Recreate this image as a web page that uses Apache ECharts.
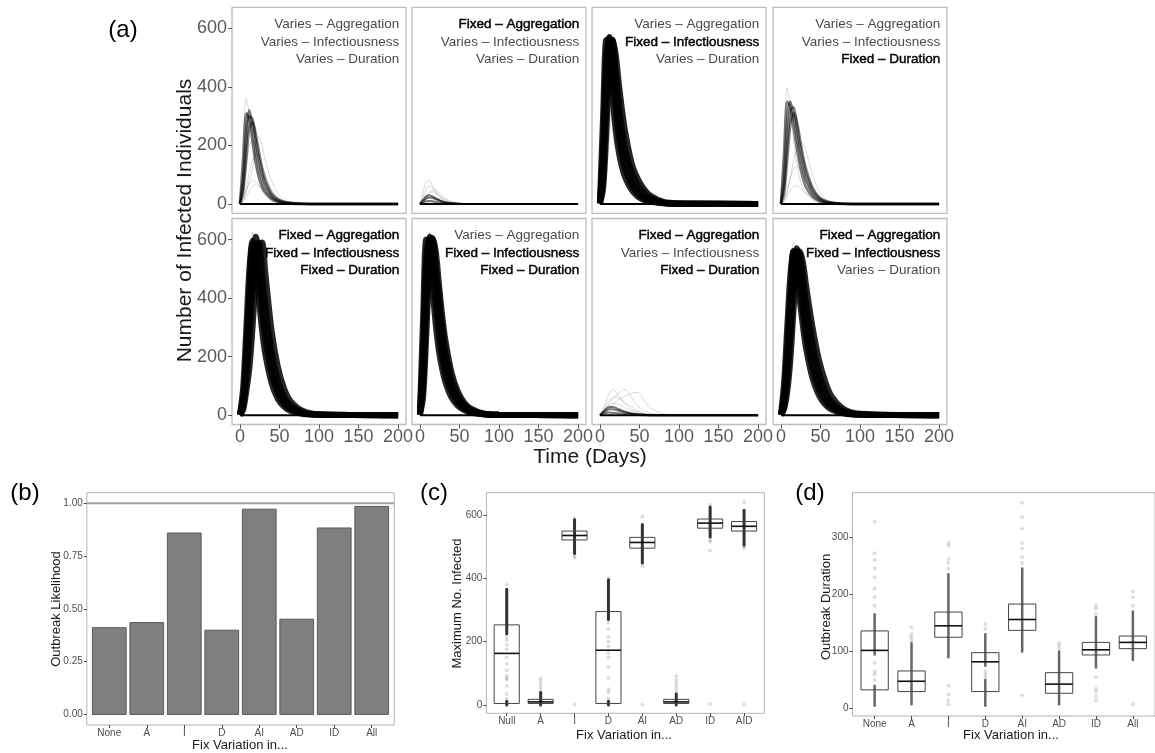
<!DOCTYPE html>
<html><head><meta charset="utf-8">
<script src="https://cdn.jsdelivr.net/npm/echarts@6/dist/echarts.min.js"></script>
<style>html,body{margin:0;padding:0;background:#fff}#c{width:1155px;height:753px}</style>
</head><body><div id="c"></div>
<script>
// ---------- DATA ----------
const days = [0,4,8,12,16,20,24,28,32,40,48,56,64,80,100,200];
const dayTicks = [0,50,100,150,200];
const infTicks = [0,200,400,600];

const p1Main = [
 [2,150,310,290,210,140,90,58,38,16,7,3,1,0,0,0],
 [1,90,260,320,260,180,120,80,52,22,9,4,2,0,0,0],
 [1,60,200,300,290,220,155,105,70,30,13,6,3,1,0,0],
 [0,40,150,260,280,240,180,125,85,38,17,8,4,1,0,0]];
const p1Faint = [
 [3,220,360,300,200,130,80,50,30,12,5,2,1,0,0,0],
 [0,20,60,110,150,170,160,130,100,50,22,10,4,1,0,0],
 [0,10,40,80,120,200,230,200,150,80,35,15,6,1,0,0],
 [0,15,50,70,80,75,65,50,38,20,9,4,2,0,0,0],
 [0,30,120,200,220,190,140,100,68,30,13,6,2,0,0,0],
 [0,8,25,45,60,65,60,50,40,22,10,4,2,0,0,0]];
const p2Main = [
 [0,10,18,22,20,16,12,8,5,2,1,0,0,0,0,0],
 [0,5,9,10,9,7,5,3,2,1,0,0,0,0,0,0],
 [0,14,26,30,26,20,14,9,6,2,1,0,0,0,0,0]];
const p2Faint = [
 [0,40,75,80,60,40,25,15,9,3,1,0,0,0,0,0],
 [0,25,50,60,55,45,32,20,12,5,2,0,0,0,0,0],
 [0,15,30,40,42,38,30,22,15,6,2,1,0,0,0,0],
 [0,8,20,35,45,48,40,30,20,8,3,1,0,0,0,0]];
const p3Main = [
 [5,300,560,500,360,250,175,125,90,48,25,13,7,2,0,0],
 [3,200,500,570,450,320,230,165,120,65,35,18,10,3,1,0],
 [2,140,420,570,520,390,285,205,150,82,45,24,13,3,1,0],
 [1,90,330,530,560,450,340,250,185,110,64,36,20,4,1,0],
 [1,50,240,460,560,510,410,320,245,140,85,50,28,8,2,0]];
const p3Faint = [
 [2,120,380,560,585,480,360,270,200,110,60,32,17,4,1,0],
 [0,20,90,220,380,470,450,380,300,180,100,55,30,8,2,0]];
const p4Main = [
 [2,170,350,330,260,190,130,85,55,24,10,4,2,0,0,0],
 [1,100,290,350,300,230,165,115,78,35,15,6,3,1,0,0],
 [1,60,210,320,330,270,200,145,100,46,20,9,4,1,0,0],
 [0,35,150,270,310,285,225,165,118,56,25,11,5,1,0,0]];
const p4Faint = [
 [3,250,395,330,220,140,85,55,35,14,6,2,1,0,0,0],
 [0,10,40,90,150,190,210,205,180,100,45,18,7,1,0,0],
 [0,15,50,90,120,130,120,100,80,42,20,9,4,1,0,0],
 [0,10,30,50,60,62,55,45,35,20,10,4,2,0,0,0],
 [0,50,180,290,300,240,170,115,75,32,13,5,2,0,0,0]];
const p5Main = [
 [2,90,290,500,595,520,400,290,210,110,55,28,14,4,1,0],
 [1,60,220,430,585,575,465,355,265,145,75,38,20,5,1,0],
 [1,40,160,350,530,610,535,420,320,178,95,50,26,7,2,0],
 [0,28,120,260,440,580,590,490,380,215,118,63,33,9,2,0],
 [0,18,80,160,300,470,580,590,490,290,165,90,48,14,3,0]];
const p5Faint = [
 [1,120,360,560,626,520,390,280,200,105,52,26,13,3,1,0]];
const p6Main = [
 [5,330,600,560,430,310,220,160,115,60,32,17,9,3,1,0],
 [3,230,530,610,510,380,280,200,145,78,42,22,12,3,1,0],
 [2,160,450,600,570,450,340,250,180,98,53,28,15,4,1,0],
 [1,100,360,560,600,510,400,300,220,120,65,35,18,5,1,0],
 [1,60,270,500,605,560,450,345,260,145,80,43,23,6,1,0]];
const p6Faint = [
 [4,280,580,627,500,360,260,190,135,72,38,20,10,3,1,0],
 [0,30,150,350,500,540,480,390,300,180,100,55,30,8,2,0]];
const p7Main = [
 [0,8,15,20,20,18,15,12,9,5,2,1,0,0,0,0],
 [0,5,8,9,8,7,6,5,4,2,1,0,0,0,0,0],
 [0,12,22,28,28,25,20,16,12,6,3,1,0,0,0,0]];
const p7Faint = [
 [0,20,50,75,88,80,65,50,38,20,10,4,2,0,0,0],
 [0,10,25,40,55,65,75,85,88,60,30,15,6,1,0,0],
 [0,5,15,25,35,45,55,60,65,75,78,50,25,5,1,0],
 [0,15,35,50,60,62,58,50,42,28,15,7,3,0,0,0],
 [0,10,25,35,40,40,36,30,24,14,7,3,1,0,0,0]];
const p8Main = [
 [2,110,300,480,560,490,390,300,225,125,68,36,19,5,1,0],
 [1,70,230,420,560,550,450,350,270,160,90,48,26,7,1,0],
 [1,45,170,350,520,570,510,420,330,200,115,64,35,10,2,0],
 [0,30,120,270,450,560,550,470,380,245,145,82,45,13,3,0],
 [0,20,80,190,360,510,560,520,440,300,190,115,65,20,5,0]];
const p8Faint = [
 [1,60,220,420,592,560,430,320,240,130,70,36,19,5,1,0]];

const facetAgg = ['Varies','Fixed','Varies','Varies','Fixed','Varies','Fixed','Fixed'];
const facetInf = ['Varies','Varies','Fixed','Varies','Fixed','Fixed','Varies','Fixed'];
const facetDur = ['Varies','Varies','Varies','Fixed','Fixed','Fixed','Fixed','Varies'];

const catsB = ['None','A','I','D','AI','AD','ID','All'];
const likelihood = [0.411,0.435,0.859,0.399,0.972,0.451,0.883,0.985];
const likeTicks = [0,0.25,0.5,0.75,1.0];

const catsC = ['Null','A','I','D','AI','AD','ID','AID'];
const maxQ1  = [5,5,521,5,495,5,558,549];
const maxMed = [163,10,535,173,513,10,574,564];
const maxQ3  = [253,18,549,295,529,18,587,579];
const maxStripes = [[0,0,12],[0,225,365],[1,0,40],[2,478,585],[3,0,12],[3,270,395],[4,448,570],[5,0,35],[6,530,625],[7,505,615]];
const maxSparse = [
 [20,35,60,80,85,92,110,130,150,175,190,205,215,380],
 [45,55,65,75,84],
 [2,465,470,590],
 [20,40,50,85,120,150,165,185,200,215,240,260,400],
 [2,438,595],
 [40,50,60,70,80,92],
 [3,488,515,520,632],
 [2,495,500,640]];

const catsD = ['None','A','I','D','AI','AD','ID','All'];
const durQ1  = [33,30,125,30,137,27,94,105];
const durMed = [102,48,145,82,156,43,103,116];
const durQ3  = [136,66,169,98,183,63,116,127];
const durStripes = [[0,5,40],[0,95,165],[1,8,115],[2,90,235],[3,5,50],[3,75,130],[4,100,245],[5,8,100],[6,72,160],[7,85,170]];
const durSparse = [
 [50,60,65,80,180,195,210,230,245,260,272,327],
 [120,125,130,142],
 [8,15,25,40,245,255,262,285,290],
 [55,60,65,140,148],
 [23,255,265,280,290,315,335,360],
 [105,110,115],
 [15,22,30,35,55,165,175,180],
 [8,180,195,205]];

// ---------- LAYOUT / STYLE ----------
const FONT = '"Liberation Sans", Arial, Helvetica, sans-serif';
const panels = [
 {main:p1Main, faint:p1Faint, mw:2.5, ma:0.5},
 {main:p2Main, faint:p2Faint, mw:2, ma:0.55},
 {main:p3Main, faint:p3Faint, mw:6, ma:0.85},
 {main:p4Main, faint:p4Faint, mw:2.5, ma:0.5},
 {main:p5Main, faint:p5Faint, mw:6, ma:0.85},
 {main:p6Main, faint:p6Faint, mw:6, ma:0.85},
 {main:p7Main, faint:p7Faint, mw:2, ma:0.55},
 {main:p8Main, faint:p8Faint, mw:6, ma:0.85}];
const colLeft = [232,412,592,773], rowTop = [7.3,218.5], panelW = 174, panelH = 206;

const grids=[], xAxes=[], yAxes=[], series=[], graphics=[];
function txt(text, x, y, size, opts){
  opts = opts || {};
  graphics.push({type:'text', x:x, y:y, rotation: opts.rot || 0, silent:true, z:50,
    style:{text:text, x:0, y:0, fontSize:size, fontFamily:FONT, fontWeight: opts.weight || 'normal',
      fill: opts.fill || '#1a1a1a', align: opts.align || 'center', verticalAlign:'middle',
      textAlign: opts.align || 'center', textVerticalAlign:'middle',
      stroke: opts.stroke || null, lineWidth: opts.strokeW || 0}});
}

for (let k=0;k<8;k++){
  const r = Math.floor(k/4), c = k%4;
  grids.push({left:colLeft[c], top:rowTop[r], width:panelW, height:panelH, show:true, borderColor:'#bdbdbd', borderWidth:1.3});
  xAxes.push({gridIndex:k, type:'value', min:-10, max:210,
    axisLine:{show:false,onZero:false}, splitLine:{show:false},
    axisTick:{show:r===1, length:4, lineStyle:{color:'#555'}, customValues:dayTicks},
    axisLabel:{show:r===1, customValues:dayTicks, margin:4, fontSize:18, color:'#5a5a5a', fontFamily:FONT}});
  yAxes.push({gridIndex:k, type:'value', min:-32, max:672,
    axisLine:{show:false,onZero:false}, splitLine:{show:false},
    axisTick:{show:c===0, length:4, lineStyle:{color:'#555'}, customValues:infTicks},
    axisLabel:{show:c===0, customValues:infTicks, margin:5, fontSize:18, color:'#5a5a5a', fontFamily:FONT}});
  const P = panels[k];
  P.faint.forEach(arr=>series.push({type:'line', xAxisIndex:k, yAxisIndex:k, silent:true, showSymbol:false, smooth:0.3, z:2,
    data: days.map((d,i)=>[d,arr[i]]), lineStyle:{color:'#000', width:1, opacity:0.15}}));
  P.main.forEach(arr=>series.push({type:'line', xAxisIndex:k, yAxisIndex:k, silent:true, showSymbol:false, smooth:0.3, z:3,
    data: days.map((d,i)=>[d,arr[i]]), lineStyle:{color:'#000', width:P.mw, opacity:P.ma}}));
  series.push({type:'line', xAxisIndex:k, yAxisIndex:k, silent:true, showSymbol:false, z:4,
    data:[[0,0],[200,0]], lineStyle:{color:'#000', width:2}});
  const right = colLeft[c] + panelW - 6.7, top = rowTop[r];
  [[facetAgg[k],'Aggregation'],[facetInf[k],'Infectiousness'],[facetDur[k],'Duration']].forEach((p,j)=>{
    const fixed = p[0]==='Fixed';
    txt(p[0]+' \u2013 '+p[1], right, top + 17 + j*17.5, 13.5,
      {align:'right', fill: fixed ? '#000' : '#4a4a4a', stroke: fixed ? '#000' : null, strokeW: fixed ? 0.45 : 0});
  });
}

function bottomAxes(gi, cats, ymin, ymax, yticks, yfmt){
  xAxes.push({gridIndex:gi, type:'value', min:-0.6, max:7.6,
    axisLine:{show:false,onZero:false}, splitLine:{show:false},
    axisTick:{length:3, lineStyle:{color:'#444'}, customValues:[0,1,2,3,4,5,6,7]},
    axisLabel:{customValues:[0,1,2,3,4,5,6,7], formatter:v=>cats[Math.round(v)], margin:3, fontSize:10, color:'#4d4d4d', fontFamily:FONT}});
  yAxes.push({gridIndex:gi, type:'value', min:ymin, max:ymax,
    axisLine:{show:false,onZero:false}, splitLine:{show:false},
    axisTick:{length:3, lineStyle:{color:'#444'}, customValues:yticks},
    axisLabel:{customValues:yticks, formatter:yfmt, margin:4, fontSize:10, color:'#4d4d4d', fontFamily:FONT}});
}
// (b)
grids.push({left:86.8, top:492.7, width:307.4, height:232.3, show:true, borderColor:'#b3b3b3', borderWidth:1});
bottomAxes(8, catsB, -0.05, 1.05, likeTicks, v=>v.toFixed(2));
series.push({type:'custom', xAxisIndex:8, yAxisIndex:8, silent:true, z:3,
  data: likelihood.map((v,i)=>[i,v]),
  renderItem:(params, api)=>{
    const x=api.value(0), v=api.value(1);
    const a=api.coord([x-0.45, v]), b=api.coord([x+0.45, 0]);
    return {type:'rect', shape:{x:a[0], y:a[1], width:b[0]-a[0], height:b[1]-a[1]},
      style:{fill:'#7f7f7f', stroke:'#5a5a5a', lineWidth:1}};
  }});
series.push({type:'line', xAxisIndex:8, yAxisIndex:8, silent:true, showSymbol:false, z:4,
  data:[[-0.6,1],[7.6,1]], lineStyle:{color:'#a0a0a0', width:1.8}});

function boxSeries(gi, q1, md, q3, stripes, sparse, stripeStyle){
  series.push({type:'custom', xAxisIndex:gi, yAxisIndex:gi, silent:true, z:2,
    data: stripes,
    renderItem:(params, api)=>{
      const a=api.coord([api.value(0), api.value(1)]), b=api.coord([api.value(0), api.value(2)]);
      return {type:'line', shape:{x1:a[0], y1:a[1], x2:b[0], y2:b[1]},
        style:{stroke:stripeStyle.color, lineWidth:stripeStyle.width, lineCap:'round'}};
    }});
  const pts = [];
  sparse.forEach((arr,i)=>arr.forEach(v=>pts.push([i,v])));
  series.push({type:'scatter', xAxisIndex:gi, yAxisIndex:gi, silent:true, z:3, symbolSize:4,
    data: pts, itemStyle:{color:'rgba(0,0,0,0.16)'}});
  series.push({type:'custom', xAxisIndex:gi, yAxisIndex:gi, silent:true, z:4,
    data: q1.map((v,i)=>[i, v, md[i], q3[i]]),
    renderItem:(params, api)=>{
      const x=api.value(0);
      const a=api.coord([x-0.37, api.value(3)]), b=api.coord([x+0.37, api.value(1)]);
      const m1=api.coord([x-0.37, api.value(2)]), m2=api.coord([x+0.37, api.value(2)]);
      return {type:'group', children:[
        {type:'rect', shape:{x:a[0], y:a[1], width:b[0]-a[0], height:b[1]-a[1]}, style:{fill:'none', stroke:'#444', lineWidth:1}},
        {type:'line', shape:{x1:m1[0], y1:m1[1], x2:m2[0], y2:m2[1]}, style:{stroke:'#111', lineWidth:1.6}}
      ]};
    }});
}
// (c)
grids.push({left:486.4, top:492.7, width:278, height:220.6, show:true, borderColor:'#b3b3b3', borderWidth:1});
bottomAxes(9, catsC, -26, 670, [0,200,400,600], v=>String(v));
boxSeries(9, maxQ1, maxMed, maxQ3, maxStripes, maxSparse, {color:'rgba(0,0,0,0.8)', width:3});
// (d)
grids.push({left:852.5, top:492.7, width:307.5, height:223.3, show:true, borderColor:'#b3b3b3', borderWidth:1});
bottomAxes(10, catsD, -12.75, 377.75, [0,100,200,300], v=>String(v));
boxSeries(10, durQ1, durMed, durQ3, durStripes, durSparse, {color:'rgba(0,0,0,0.6)', width:2.5});

txt('(a)', 123, 30, 24, {fill:'#000'});
txt('(b)', 25, 493, 24, {fill:'#000'});
txt('(c)', 434, 493, 24, {fill:'#000'});
txt('(d)', 810, 493, 24, {fill:'#000'});
txt('Number of Infected Individuals', 185, 220.5, 21, {rot:Math.PI/2});
txt('Time (Days)', 590, 457, 21);
txt('Outbreak Likelihood', 56, 609, 13, {rot:Math.PI/2});
txt('Fix Variation in...', 240, 745, 13);
txt('Maximum No. Infected', 457, 603.5, 13, {rot:Math.PI/2});
txt('Fix Variation in...', 624, 735, 13);
txt('Outbreak Duration', 826, 607, 13, {rot:Math.PI/2});
txt('Fix Variation in...', 1011, 735, 13);

const chart = echarts.init(document.getElementById('c'));
chart.setOption({animation:false, backgroundColor:'#fff', grid:grids, xAxis:xAxes, yAxis:yAxes, series:series, graphic:graphics});
</script></body></html>
